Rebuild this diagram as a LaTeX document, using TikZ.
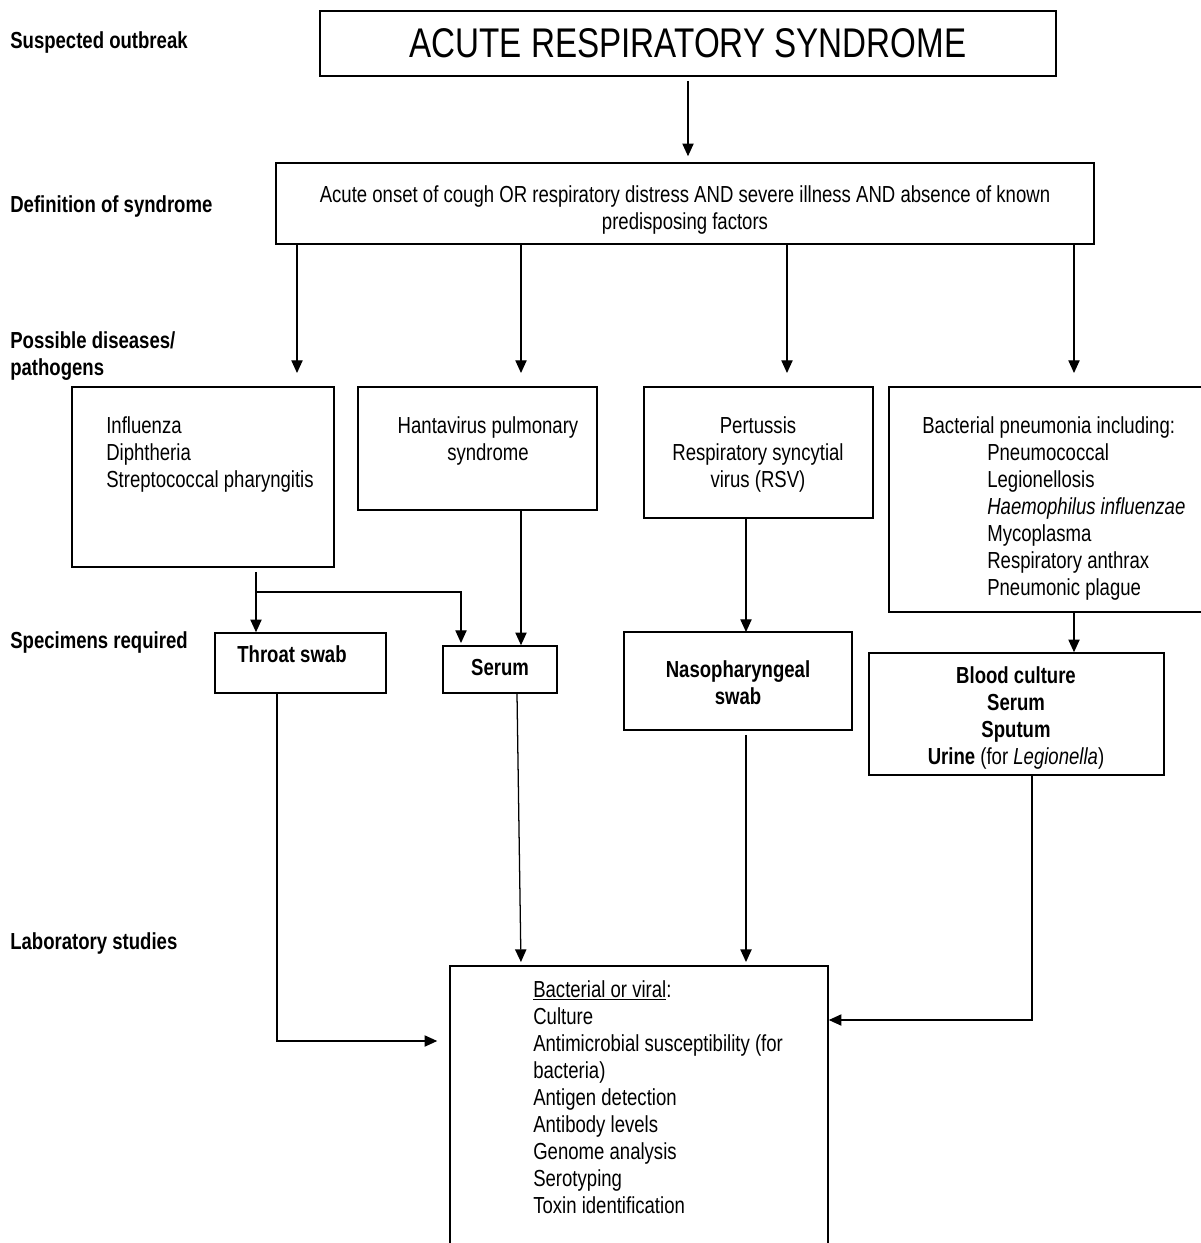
\documentclass[tikz,border=0pt]{standalone}
\usepackage{fontspec}
\setmainfont[FakeStretch=0.8]{Liberation Sans}
\usetikzlibrary{arrows.meta}
\usetikzlibrary{fit}

\tikzset{
  box/.style={draw, line width=1.1pt, inner sep=0pt},
  txt/.style={inner sep=0pt, align=left},
  tag/.style={inner sep=0pt, align=left, anchor=base west, font=\bfseries},
  wire/.style={line width=0.9pt},
  arr/.style={wire, -{Triangle[length=9pt,width=8pt]}},
}

\begin{document}
\fontsize{16.5}{19.2}\selectfont
\begin{tikzpicture}[x=0.025cm, y=-0.025cm]
\useasboundingbox (0,0) rectangle (1201,1243);
% row labels (base = last line)
\node[tag] (lOut) at (10,48) {Suspected outbreak};
\node[tag] (lDef) at (10,212) {Definition of syndrome};
\node[tag] (lDis) at (10,375) {Possible diseases/\\pathogens};
\node[tag] (lSpec) at (10,648) {Specimens required};
\node[tag] (lLab) at (10,949) {Laboratory studies};
% boxes
\node[box, fit={(320,11) (1056,76)}] (title) {};
\node[box, fit={(276,163) (1094,244)}] (def) {};
\node[box, fit={(72,387) (334,567)}] (flu) {};
\node[box, fit={(358,387) (597,510)}] (hanta) {};
\node[box, fit={(644,387) (873,518)}] (pert) {};
\node[box, fit={(889,387) (1215,612)}] (bact) {};
\node[box, fit={(215,633) (386,693)}] (throat) {};
\node[box, fit={(443,646) (557,693)}] (serum) {};
\node[box, fit={(624,632) (852,730)}] (naso) {};
\node[box, fit={(869,653) (1164,775)}] (blood) {};
\node[box, fit={(450,966) (828,1270)}] (lab) {};
% box texts
\node[txt, anchor=base, font=\fontsize{29.5}{34}\selectfont] (titleT) at (688,57) {ACUTE RESPIRATORY SYNDROME};
\node[txt, anchor=base, align=center] (defT) at (685,229) {Acute onset of cough OR respiratory distress AND severe illness AND absence of known\\predisposing factors};
\node[txt, anchor=base west] (fluT) at (106,487) {Influenza\\Diphtheria\\Streptococcal pharyngitis};
\node[txt, anchor=base, align=center] (hantaT) at (488,460) {Hantavirus pulmonary\\syndrome};
\node[txt, anchor=base, align=center] (pertT) at (758,487) {Pertussis\\Respiratory syncytial\\virus (RSV)};
\node[txt, anchor=base west] (bactH) at (922,433) {Bacterial pneumonia including:};
\node[txt, anchor=base west] (bactT) at (987,595) {Pneumococcal\\Legionellosis\\\textit{Haemophilus influenzae}\\Mycoplasma\\Respiratory anthrax\\Pneumonic plague};
\node[txt, anchor=base, font=\bfseries] (throatT) at (292,662) {Throat swab};
\node[txt, anchor=base, font=\bfseries] (serumT) at (500,675) {Serum};
\node[txt, anchor=base, align=center, font=\bfseries] (nasoT) at (738,704) {Nasopharyngeal\\swab};
\node[txt, anchor=base, align=center] (bloodT) at (1016,764) {\textbf{Blood culture}\\\textbf{Serum}\\\textbf{Sputum}\\\textbf{Urine} (for \textit{Legionella})};
\node[txt, anchor=base west] (labT) at (533,1213) {\underline{Bacterial or viral}:\\Culture\\Antimicrobial susceptibility (for\\bacteria)\\Antigen detection\\Antibody levels\\Genome analysis\\Serotyping\\Toxin identification};
% connectors
\coordinate (c1) at (297,373);
\coordinate (c2) at (521,373);
\coordinate (c3) at (787,373);
\coordinate (c4) at (1074,373);
\coordinate (c5) at (746,632);
\coordinate (split) at (256,592);
\coordinate (sIn) at (461,643);
\coordinate (t1) at (277,1041);
\coordinate (s1) at (517,693);
\coordinate (s2) at (521,963);
\coordinate (b1) at (1032,1020);
\draw[arr, shorten <=0.1cm, shorten >=0.15cm] (title.south) -- (title.south |- def.north);
\foreach \c in {c1,c2,c3,c4}
  \draw[arr] (def.south -| \c) -- (\c);
\draw[wire, shorten <=0.1cm] (flu.south -| split) -- (split);
\draw[arr] (split) -- (throat.north -| split);
\draw[arr] (split) -| (sIn);
\draw[arr] (hanta.south -| c2) -- (serum.north -| c2);
\draw[arr] (pert.south -| c5) -- (c5);
\draw[arr] (bact.south -| c4) -- (blood.north -| c4);
\draw[arr, shorten >=0.3cm] (throat.south -| t1) |- (lab.west |- t1);
\draw[arr, shorten >=0.08cm] (serum.south -| s1) -- (lab.north -| s2);
\draw[arr, shorten <=0.1cm, shorten >=0.08cm] (naso.south -| c5) -- (lab.north -| c5);
\draw[arr] (blood.south -| b1) |- (lab.east |- b1);
\end{tikzpicture}
\end{document}
